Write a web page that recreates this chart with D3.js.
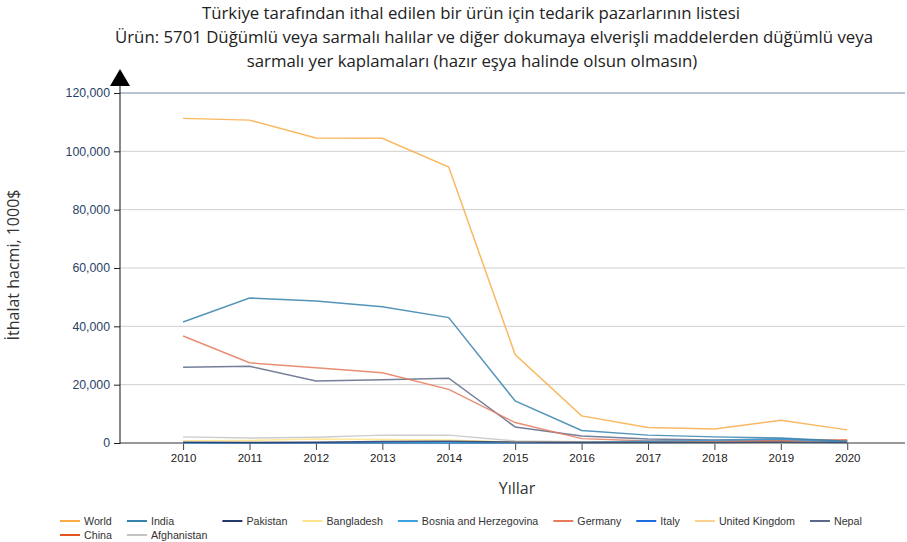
<!DOCTYPE html>
<html>
<head>
<meta charset="utf-8">
<script src="https://cdn.jsdelivr.net/npm/d3@7"></script>
<style>
	body { margin: 0; background: #fff; }
	svg { display: block; }
</style>
</head>
<body>
<div id="chart"></div>
<script>
const YEARS = [2010, 2011, 2012, 2013, 2014, 2015, 2016, 2017, 2018, 2019, 2020];
const Y_TICKS = [0, 20000, 40000, 60000, 80000, 100000, 120000];

const TITLE = [
	"Türkiye tarafından ithal edilen bir ürün için tedarik pazarlarının listesi",
	"Ürün: 5701 Düğümlü veya sarmalı halılar ve diğer dokumaya elverişli maddelerden düğümlü veya",
	"sarmalı yer kaplamaları (hazır eşya halinde olsun olmasın)",
];

const COUNTRIES = ["World", "India", "Pakistan", "Bangladesh", "Bosnia and Herzegovina",
	"Germany", "Italy", "United Kingdom", "Nepal", "China", "Afghanistan"];

const world = [111300, 110700, 104600, 104500, 94600, 30300, 9300, 5300, 4800, 7800, 4500];
const india = [41500, 49700, 48700, 46700, 43000, 14400, 4300, 2700, 2100, 1700, 600];
const pakistan = [300, 200, 300, 500, 600, 300, 200, 150, 200, 300, 150];
const bangladesh = [800, 900, 1400, 1200, 1000, 300, 200, 100, 100, 100, 100];
const bosnia = [0, 50, 100, 100, 100, 100, 300, 600, 900, 1300, 300];
const germany = [36700, 27500, 25800, 24100, 18400, 7000, 1500, 700, 700, 700, 900];
const italy = [100, 100, 100, 100, 100, 50, 50, 50, 50, 50, 50];
const uk = [200, 300, 300, 400, 300, 200, 200, 300, 300, 300, 500];
const nepal = [26000, 26300, 21300, 21700, 22200, 5500, 2400, 1400, 1000, 1400, 700];
const china = [100, 100, 100, 100, 200, 200, 300, 500, 700, 800, 1000];
const afghanistan = [2100, 1700, 2000, 2700, 2700, 700, 400, 300, 200, 200, 200];

const SERIES = [world, india, pakistan, bangladesh, bosnia, germany, italy, uk, nepal, china, afghanistan];
const COLORS = ["#f8ac45", "#3583ad", "#24396b", "#fde48c", "#3aa1de",
	"#e57a5c", "#1e6ae0", "#fccf8f", "#5c6887", "#e5531f", "#c4c4c4"];

const W = 907, H = 542;
const plotLeft = 120, plotRight = 905, plotTop = 93, plotBottom = 443;

const svg = d3.select("#chart").append("svg")
	.attr("width", W)
	.attr("height", H)
	.style("font-family", "'Open Sans', 'Noto Sans', sans-serif");

// title
svg.selectAll(".title")
	.data(TITLE)
	.enter()
	.append("text")
	.attr("class", "title")
	.attr("x", (d, i) => [471, 494, 472][i])
	.attr("y", (d, i) => 19 + i * 24)
	.attr("text-anchor", "middle")
	.attr("font-size", "16.8px")
	.attr("fill", "#222")
	.text((d) => d);

const xScale = d3.scaleLinear().domain([2009.05, 2020.87]).range([plotLeft, plotRight]);
const yScale = d3.scaleLinear().domain([0, 120000]).range([plotBottom, plotTop]);

// gridlines
svg.append("g")
	.selectAll("line")
	.data(Y_TICKS.slice(1))
	.enter()
	.append("line")
	.attr("x1", plotLeft)
	.attr("x2", plotRight)
	.attr("y1", (d) => yScale(d))
	.attr("y2", (d) => yScale(d))
	.attr("stroke", (d) => (d === 120000 ? "#6f86a6" : "#d0d0d0"))
	.attr("stroke-width", 1);

// y axis
const yAxis = d3.axisLeft(yScale)
	.tickValues(Y_TICKS)
	.tickSize(6)
	.tickPadding(4)
	.tickFormat(d3.format(","));

const gy = svg.append("g")
	.attr("transform", "translate(" + plotLeft + ",0)")
	.call(yAxis);
gy.select(".domain").remove();
gy.selectAll("text")
	.attr("fill", "#2a3f66")
	.attr("font-family", "'Liberation Sans', Arial, sans-serif")
	.style("font-size", "12.3px");
gy.selectAll(".tick line").attr("stroke", "#222");

svg.append("line")
	.attr("x1", plotLeft).attr("x2", plotLeft)
	.attr("y1", 84).attr("y2", plotBottom + 1)
	.attr("stroke", "#111");

svg.append("path")
	.attr("d", "M" + (plotLeft - 10) + ",86 L" + plotLeft + ",69 L" + (plotLeft + 10) + ",86 Z")
	.attr("fill", "#000");

// x axis
const xAxis = d3.axisBottom(xScale)
	.tickValues(YEARS)
	.tickSize(7)
	.tickPadding(4)
	.tickFormat(d3.format("d"));

const gx = svg.append("g")
	.attr("transform", "translate(0," + plotBottom + ")")
	.call(xAxis);
gx.select(".domain").remove();
gx.selectAll("text")
	.attr("fill", "#222")
	.attr("font-family", "'Liberation Sans', Arial, sans-serif")
	.style("font-size", "11.5px");
gx.selectAll(".tick line").attr("stroke", "#444");

svg.append("line")
	.attr("x1", plotLeft).attr("x2", plotRight)
	.attr("y1", plotBottom).attr("y2", plotBottom)
	.attr("stroke", "#333");

// lines
const line = d3.line()
	.x((d, i) => xScale(YEARS[i]))
	.y((d) => yScale(d));

svg.append("g")
	.selectAll("path")
	.data(SERIES.map((s, i) => ({ values: s, color: COLORS[i] })).reverse())
	.enter()
	.append("path")
	.attr("d", (d) => line(d.values))
	.attr("fill", "none")
	.attr("stroke", (d) => d.color)
	.attr("stroke-width", 1.5)
	.attr("stroke-opacity", 0.85);

// axis labels
svg.append("text")
	.attr("x", 517)
	.attr("y", 494)
	.attr("text-anchor", "middle")
	.attr("font-size", "16px")
	.attr("fill", "#333")
	.text("Yıllar");

svg.append("text")
	.attr("transform", "translate(19,265) rotate(-90)")
	.attr("text-anchor", "middle")
	.attr("font-size", "16px")
	.attr("fill", "#333")
	.text("İthalat hacmi, 1000$");

// legend: grid of 9 columns, 2 rows
const legend = svg.append("g").attr("font-family", "'Liberation Sans', Arial, sans-serif");
const nCols = 9;
const items = COUNTRIES.map((c, i) => ({ name: c, color: COLORS[i], col: i % nCols, row: Math.floor(i / nCols) }));

const tmp = legend.append("text").style("font-size", "10.7px");
const colW = d3.range(nCols).map(() => 0);
items.forEach((it) => {
	tmp.text(it.name);
	it.w = tmp.node().getComputedTextLength();
	colW[it.col] = Math.max(colW[it.col], it.w + 39);
});
tmp.remove();
const colX = [60];
for (let i = 1; i < nCols; i++) colX.push(colX[i - 1] + colW[i - 1]);

const li = legend.selectAll("g")
	.data(items)
	.enter()
	.append("g")
	.attr("transform", (d) => "translate(" + colX[d.col] + "," + (521 + d.row * 14) + ")");

li.append("line")
	.attr("x1", 0).attr("x2", 20)
	.attr("stroke", (d) => d.color)
	.attr("stroke-width", 2);

li.append("text")
	.attr("x", 24)
	.attr("y", 4)
	.style("font-size", "10.7px")
	.attr("fill", "#333")
	.text((d) => d.name);
</script>
</body>
</html>
